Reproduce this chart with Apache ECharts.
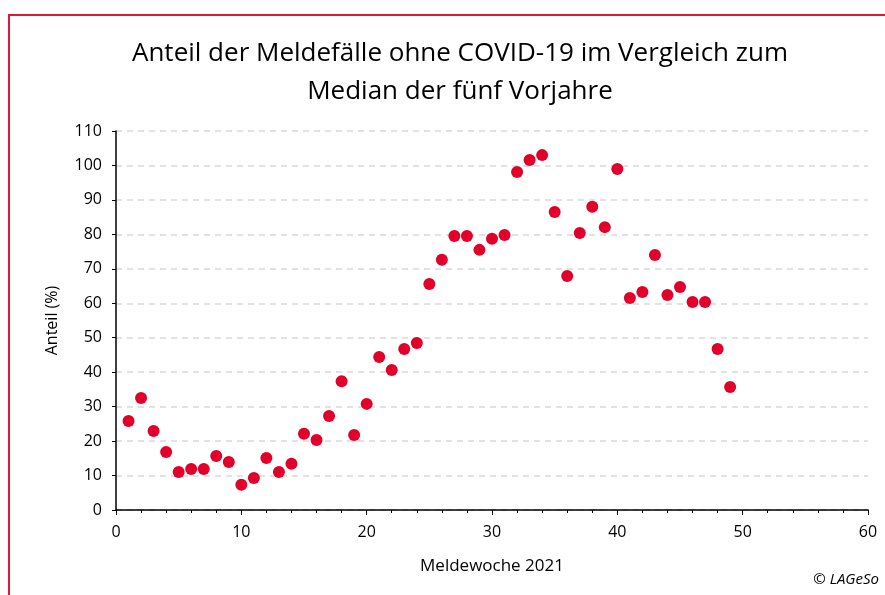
<!DOCTYPE html>
<html><head><meta charset="utf-8">
<script src="https://cdn.jsdelivr.net/npm/echarts@6/dist/echarts.min.js"></script>
<style>html,body{margin:0;padding:0;background:#fff}#c{width:885px;height:595px}</style>
</head><body><div id="c"></div>
<script>
const titleLines = ['Anteil der Meldefälle ohne COVID-19 im Vergleich zum', 'Median der fünf Vorjahre'];
const weeks = [1,2,3,4,5,6,7,8,9,10,11,12,13,14,15,16,17,18,19,20,21,22,23,24,25,26,27,28,29,30,31,32,33,34,35,36,37,38,39,40,41,42,43,44,45,46,47,48,49];
const anteil = [25.8,32.5,22.9,16.8,11.0,11.9,11.9,15.7,13.9,7.3,9.3,15.1,11.0,13.4,22.1,20.3,27.3,37.4,21.8,30.8,44.4,40.6,46.7,48.5,65.6,72.6,79.5,79.5,75.5,78.7,79.8,98.1,101.6,103.0,86.5,67.9,80.4,88.0,82.1,99.0,61.5,63.3,74.0,62.4,64.7,60.4,60.4,46.7,35.7];
const xAxisName = 'Meldewoche 2021';
const yAxisName = 'Anteil (%)';
const credit = '© LAGeSo';

const font = '"Open Sans", "Noto Sans", sans-serif';
const chart = echarts.init(document.getElementById('c'));
chart.setOption({
  animation: false,
  title: {
    text: titleLines.join('\n'),
    left: 455, top: 30, textAlign: 'center',
    textStyle: {fontFamily: font, fontSize: 26, fontWeight: 'normal', color: '#000', lineHeight: 38}
  },
  graphic: [
    {type: 'rect', shape: {x: 9, y: 15, width: 900, height: 620}, style: {fill: 'none', stroke: '#e0143c', lineWidth: 2}},
    {type: 'text', right: 6, top: 572, style: {text: credit, font: 'italic 15px "Open Sans", sans-serif', fill: '#000'}}
  ],
  grid: {left: 116, right: 17, top: 131, bottom: 85},
  xAxis: {
    type: 'value', min: 0, max: 60, interval: 10,
    name: xAxisName, nameLocation: 'middle', nameGap: 48,
    nameTextStyle: {fontFamily: font, fontSize: 17, color: '#000'},
    axisLine: {show: true, lineStyle: {color: '#000', width: 1.5}},
    axisTick: {show: true, length: 5, lineStyle: {color: '#000'}},
    minorTick: {show: true, splitNumber: 5, length: 3, lineStyle: {color: '#000'}},
    axisLabel: {fontFamily: font, fontSize: 16, color: '#000', margin: 14},
    splitLine: {show: false}
  },
  yAxis: {
    type: 'value', min: 0, max: 110, interval: 10,
    name: yAxisName, nameLocation: 'middle', nameGap: 56, nameRotate: 90,
    nameTextStyle: {fontFamily: font, fontSize: 16, color: '#000'},
    axisLine: {show: true, lineStyle: {color: '#000', width: 1.5}},
    axisTick: {show: true, length: 4, lineStyle: {color: '#000'}},
    axisLabel: {fontFamily: font, fontSize: 16, color: '#000', margin: 14},
    splitLine: {show: true, lineStyle: {color: '#d9d9d9', type: [6, 5], width: 1.5}}
  },
  series: [{
    type: 'scatter',
    data: weeks.map((w, i) => [w, anteil[i]]),
    symbolSize: 12,
    itemStyle: {color: '#e2002a', opacity: 1}
  }]
});
</script></body></html>
